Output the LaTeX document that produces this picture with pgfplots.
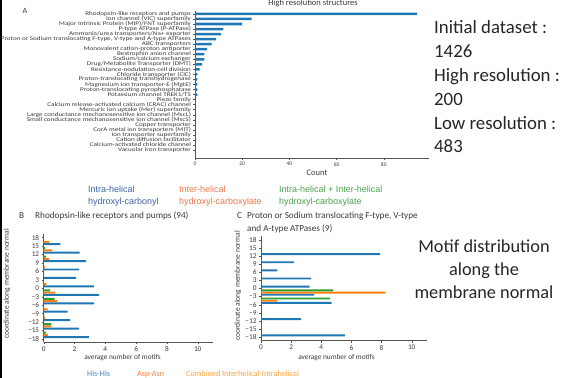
\documentclass[border=0pt]{standalone}
\usepackage{fontspec}
\setmainfont{Carlito}
\newfontfamily\arialf{Liberation Sans}
\newfontfamily\widef[FakeStretch=1.25]{Carlito}
\usepackage{pgfplots}
\pgfplotsset{compat=1.18}
\usepackage{pgfplotstable}

\definecolor{mplblue}{HTML}{1F77B4}
\definecolor{mplorange}{HTML}{FF7F0E}
\definecolor{mplgreen}{HTML}{2CA02C}
\definecolor{legblue}{HTML}{3F63A8}
\definecolor{legorange}{HTML}{E8784A}
\definecolor{leggreen}{HTML}{4E9F50}
\definecolor{hisblue}{HTML}{4A84C4}
\definecolor{asporange}{HTML}{F07F45}
\definecolor{combor}{HTML}{F8A545}
\definecolor{txtgray}{HTML}{3A3A3A}
\definecolor{axgray}{HTML}{555555}

\pgfplotstableread{
idx count
0 94
1 24
2 20
3 12
4 11
5 9
6 7
7 5
8 4
9 4
10 3
11 2
12 1
13 1
14 1
15 1
16 1
17 0
18 0
19 0
20 0
21 0
22 0
23 0
24 0
25 0
26 0
27 0
}\dataA

\pgfplotstableread{
y blue orange green
16.5 1.08 0.35 0.02
13.5 2.34 0.55 0.10
10.5 2.74 0.33 0.16
7.5 2.30 0.07 0.00
4.5 2.10 0.00 0.03
1.5 3.25 0.18 0.02
-1.5 3.60 0.76 0.41
-4.5 3.25 0.88 0.71
-7.5 1.55 0.26 0.02
-10.5 1.73 0.08 0.05
-13.5 2.28 0.50 0.50
-16.5 2.93 0.28 0.15
}\dataB

\pgfplotstableread{
y blue orange green
16.5 0.08 0 0
13.5 7.90 0 0
10.5 2.18 0 0
7.5 1.08 0 0
4.5 3.32 0 0
1.5 3.22 0 0
-1.5 3.53 8.25 4.78
-4.5 4.68 1.08 4.58
-7.5 0 0 0
-10.5 2.65 0 0
-13.5 0 0 0
-16.5 5.57 0 0
}\dataC

\pgfplotsset{
  panel/.style={
    scale only axis,
    axis x line*=bottom, axis y line*=left,
    axis line style={-, axgray, line width=0.5pt},
    tick align=outside, major tick length=2pt,
    tick style={axgray, line width=0.4pt},
    ticklabel style={text=txtgray},
  },
  motif/.style={
    panel,
    xmin=0, xmax=11, ymin=-19.2, ymax=19.2,
    xtick={0,2,4,6,8,10}, xticklabels={0,2,4,6,8,10},
    ytick={-18,-15,-12,-9,-6,-3,0,3,6,9,12,15,18},
    yticklabels={−18,−15,−12,−9,−6,−3,0,3,6,9,12,15,18},
    ticklabel style={font=\fontsize{7.3}{7.3}\selectfont},
    xticklabel style={yshift=1pt},
    yticklabel style={xshift=1pt},
  },
}

\begin{document}
\begin{tikzpicture}[x=1pt,y=1pt]

% ---------- Panel A ----------
\begin{axis}[panel,
  width=233.6pt, height=147.4pt,
  at={(195pt,219.7pt)}, anchor=south west,
  xmin=0, xmax=99, ymin=-0.6, ymax=28.65, y dir=reverse,
  xtick={0,20,40,60,80}, xticklabels={0,20,40,60,80},
  ytick={0,...,27},
  yticklabels={
    {Rhodopsin-like receptors and pumps},
    {Ion channel (VIC) superfamily},
    {Major Intrinsic Protein (MIP)/FNT superfamily},
    {P-type ATPase (P-ATPase)},
    {Ammonia/urea transporters/Na+ exporter},
    {Proton or Sodium translocating F-type, V-type and A-type ATPases},
    {ABC transporters},
    {Monovalent cation-proton antiporter},
    {Bestrophin anion channel},
    {Sodium/calcium exchanger},
    {Drug/Metabolite Transporter (DMT)},
    {Resistance-nodulation-cell division},
    {Chloride transporter (ClC)},
    {Proton-translocating transhydrogenase},
    {Magnesium ion transporter-E (MgtE)},
    {Proton-translocating pyrophosphatase},
    {Potassium channel TREK1/TS},
    {Piezo family},
    {Calcium release-activated calcium (CRAC) channel},
    {Mercuric ion uptake (Mer) superfamily},
    {Large conductance mechanosensitive ion channel (MscL)},
    {Small conductance mechanosensitive ion channel (MscS)},
    {Copper transporter},
    {CorA metal ion transporters (MIT)},
    {Ion transporter superfamily},
    {Cation diffusion facilitator},
    {Calcium-activated chloride channel},
    {Vacuolar iron transporter}},
  major tick length=1.5pt,
  yticklabel style={font=\widef\fontsize{5.7}{5.7}\selectfont, xshift=1pt, inner ysep=0pt},
  xticklabel style={font=\fontsize{5.5}{5.5}\selectfont, yshift=1pt},
]
\addplot[xbar, bar width=0.5, bar shift=0, fill=mplblue, draw=none]
  table[x=count, y=idx] {\dataA};
\end{axis}

% ---------- Panel B ----------
\begin{axis}[motif,
  width=169.4pt, height=108.1pt,
  at={(43.7pt,35.6pt)}, anchor=south west]
\addplot[xbar, bar width=0.7, bar shift=-0.8, fill=mplblue, draw=none] table[x=blue, y=y] {\dataB};
\addplot[xbar, bar width=0.7, bar shift=0, fill=mplorange, draw=none] table[x=orange, y=y] {\dataB};
\addplot[xbar, bar width=0.7, bar shift=0.8, fill=mplgreen, draw=none] table[x=green, y=y] {\dataB};
\end{axis}

% ---------- Panel C ----------
\begin{axis}[motif,
  width=165.8pt, height=104.1pt,
  at={(261pt,37.45pt)}, anchor=south west]
\addplot[xbar, bar width=0.7, bar shift=-0.8, fill=mplblue, draw=none] table[x=blue, y=y] {\dataC};
\addplot[xbar, bar width=0.7, bar shift=0, fill=mplorange, draw=none] table[x=orange, y=y] {\dataC};
\addplot[xbar, bar width=0.7, bar shift=0.8, fill=mplgreen, draw=none] table[x=green, y=y] {\dataC};
\end{axis}

% ---------- texts ----------
\draw[line width=2.2pt] (1.1,0) -- (1.1,378);

\node[text=txtgray, font=\fontsize{8}{8}\selectfont] at (25,367.5) {A};
\node[text=txtgray, font=\fontsize{8.5}{8.5}\selectfont] at (313,375) {High resolution structures};
\node[text=txtgray, font=\fontsize{8.5}{8.5}\selectfont] at (317,205) {Count};

\begin{scope}[every node/.style={anchor=base west, inner sep=0pt, font=\fontsize{18.8}{18.8}\selectfont, text=black!85}]
\node at (434,344.5) {Initial dataset :};
\node at (434,320.5) {1426};
\node at (434,296.5) {High resolution :};
\node at (434,272.5) {200};
\node at (434,248.5) {Low resolution :};
\node at (434,225) {483};
\end{scope}

\begin{scope}[every node/.style={anchor=base, inner sep=0pt, font=\fontsize{18.3}{18.3}\selectfont, text=black!85}]
\node at (484,125.5) {Motif distribution};
\node at (484,102) {along the};
\node at (484,79.5) {membrane normal};
\end{scope}

\begin{scope}[every node/.style={anchor=base west, inner sep=0pt, font=\arialf\fontsize{9}{9}\selectfont}]
\node[text=legblue] at (88,185.5) {Intra-helical};
\node[text=legblue] at (88,173.5) {hydroxyl-carbonyl};
\node[text=legorange] at (179,185.5) {Inter-helical};
\node[text=legorange] at (179,173.5) {hydroxyl-carboxylate};
\node[text=leggreen] at (279,185.5) {Intra-helical + Inter-helical};
\node[text=leggreen] at (279,173.5) {hydroxyl-carboxylate};
\end{scope}

\begin{scope}[every node/.style={anchor=base west, inner sep=0pt, font=\fontsize{9.2}{9.2}\selectfont, text=txtgray}]
\node at (19,159.5) {B};
\node at (35,159.5) {Rhodopsin-like receptors and pumps (94)};
\node at (237,159) {C};
\node at (247,159) {Proton or Sodium translocating F-type, V-type};
\node at (247,146.5) {and A-type ATPases (9)};
\end{scope}

\node[rotate=90, text=txtgray, font=\fontsize{7.5}{7.5}\selectfont] at (7,94) {coordinate along membrane normal};
\node[rotate=90, text=txtgray, font=\fontsize{7.5}{7.5}\selectfont] at (238,92) {coordinate along membrane normal};
\node[text=txtgray, font=\fontsize{7.3}{7.3}\selectfont] at (122.5,20) {average number of motifs};
\node[text=txtgray, font=\fontsize{7.3}{7.3}\selectfont] at (336.5,20) {average number of motifs};

\begin{scope}[every node/.style={anchor=base west, inner sep=0pt, font=\fontsize{8.2}{8.2}\selectfont}]
\node[text=hisblue] at (87,1.5) {His-His};
\node[text=asporange] at (137,1.5) {Asp-Asn};
\node[text=combor] at (186,1.5) {Combined Interhelical-Intrahelical};
\end{scope}

\pgfresetboundingbox
\useasboundingbox (0,0) rectangle (563,378);
\end{tikzpicture}
\end{document}
